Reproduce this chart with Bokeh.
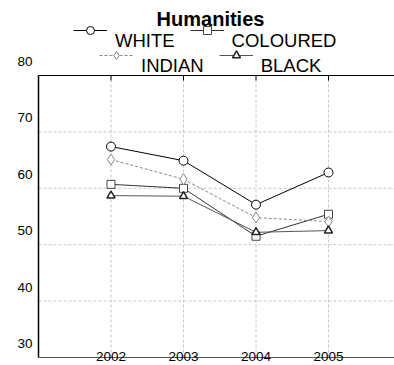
from bokeh.plotting import figure
from bokeh.models import Range1d, Label, LabelSet, ColumnDataSource, Legend, LegendItem
from bokeh.core.properties import value
from bokeh.embed import file_html
from bokeh.resources import INLINE

# ---- data ----
years = [2002, 2003, 2004, 2005]
white = [67.4, 64.9, 57.1, 62.8]
coloured = [60.7, 60.0, 51.5, 55.4]
indian = [65.1, 61.6, 54.8, 54.1]
black = [58.7, 58.6, 52.2, 52.5]
y_ticks = [30, 40, 50, 60, 70, 80]
y_grid = [40, 50, 60, 70]
x_tick_labels = ["2002", "2003", "2004", "2005"]
title_text = "Humanities"

FONT = "Liberation Sans"
W, H = 394, 365
XA, YA0, YA1 = 2001, 30, 80
PX_X = 72.5
PX_Y = 5.64
LEFT, TOP = 38, 75
X_START = XA - LEFT / PX_X
X_END = XA + (W - LEFT) / PX_X
Y_END = YA1 + TOP / PX_Y
Y_START = YA0 - (H - TOP - (YA1 - YA0) * PX_Y) / PX_Y

p = figure(width=W, height=H, x_range=Range1d(X_START, X_END), y_range=Range1d(Y_START, Y_END),
           output_backend="svg", toolbar_location=None,
           x_axis_location=None, y_axis_location=None,
           min_border_left=0, min_border_right=0, min_border_top=0, min_border_bottom=0)
p.outline_line_color = None
p.background_fill_color = "white"
p.border_fill_color = "white"
for g in p.grid:
    g.visible = False

n = len(years)
p.segment(x0=years, y0=[YA0] * n, x1=years, y1=[YA1] * n,
          line_color="#c8c8c8", line_dash="3 2", line_width=1)
m = len(y_grid)
p.segment(x0=[XA] * m, y0=y_grid, x1=[X_END] * m, y1=y_grid,
          line_color="#c8c8c8", line_dash="3 2", line_width=1)

p.segment(x0=[XA], y0=[YA0], x1=[XA], y1=[YA1], line_color="black", line_width=1.5)
p.segment(x0=[XA], y0=[YA1], x1=[X_END], y1=[YA1], line_color="black", line_width=1.2)
p.segment(x0=[XA], y0=[YA0], x1=[X_END], y1=[YA0], line_color="#555555", line_width=1)
tick_len = 5 / PX_Y
p.segment(x0=years, y0=[YA1] * n, x1=years, y1=[YA1 - tick_len] * n, line_color="black", line_width=1)

lw = p.line(years, white, line_color="black", line_width=1)
sw = p.scatter(years, white, marker="circle", size=9, fill_color="white", line_color="black")
lc = p.line(years, coloured, line_color="#333333", line_width=1)
sc = p.scatter(years, coloured, marker="square", size=8, fill_color="white", line_color="#444444")
li = p.line(years, indian, line_color="#888888", line_width=1, line_dash="3 2")
si = p.scatter(years, indian, marker="diamond", size=11, fill_color="white", line_color="#888888")
lb = p.line(years, black, line_color="#555555", line_width=1)
sb = p.scatter(years, black, marker="triangle", size=8, fill_color="white", line_color="#222222",
               line_width=1.5)

ysrc = ColumnDataSource(dict(x=[XA] * len(y_ticks), y=y_ticks, t=[str(v) for v in y_ticks]))
p.add_layout(LabelSet(x="x", y="y", text="t", source=ysrc, x_offset=-6, y_offset=14,
                      text_align="right", text_baseline="middle", text_font=value(FONT),
                      text_font_size="13.5px", text_color="black"))
xsrc = ColumnDataSource(dict(x=years, y=[YA0] * n, t=x_tick_labels))
p.add_layout(LabelSet(x="x", y="y", text="t", source=xsrc, y_offset=1,
                      text_align="center", text_baseline="middle", text_font=value(FONT),
                      text_font_size="13.5px", text_color="black"))

p.add_layout(Label(x=210, y=H - 18, x_units="screen", y_units="screen", text=title_text,
                   text_align="center", text_baseline="middle", text_font=FONT,
                   text_font_size="20px", text_font_style="bold", text_color="black"))

common = dict(orientation="horizontal", padding=0, margin=0, spacing=15, glyph_width=34,
              glyph_height=20, label_standoff=8, label_text_font_size="18.5px",
              label_text_font=FONT, label_text_color="black",
              background_fill_alpha=0, border_line_color=None)
leg1 = Legend(items=[LegendItem(label="\nWHITE", renderers=[lw, sw]),
                     LegendItem(label="\nCOLOURED", renderers=[lc, sc])],
              location=(73, H - 30 - 22), **common)
leg2 = Legend(items=[LegendItem(label="\nINDIAN", renderers=[li, si]),
                     LegendItem(label="\nBLACK", renderers=[lb, sb])],
              location=(99, H - 55 - 22), **common)
p.add_layout(leg1)
p.add_layout(leg2)

open("out.html", "w").write(file_html(p, INLINE))
